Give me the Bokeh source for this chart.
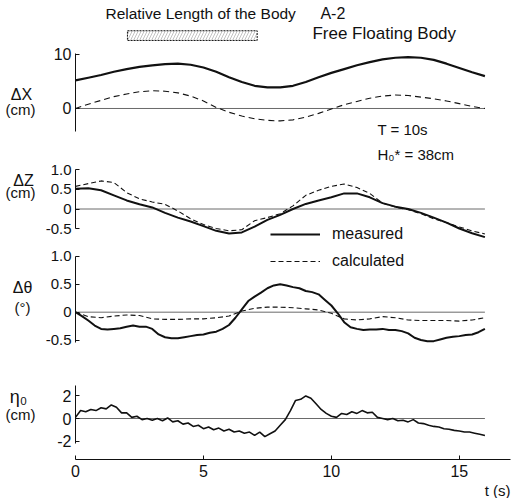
from bokeh.plotting import figure
from bokeh.layouts import column, row
from bokeh.models import Range1d, FixedTicker, Label, Legend, LegendItem, Title
from bokeh.embed import file_html
from bokeh.resources import INLINE

FONT = "Liberation Sans"
INK = "#111111"

# ---------------- data ----------------
t_half = [i * 0.5 for i in range(33)]          # 0 .. 16 s
t_quarter = [i * 0.25 for i in range(65)]      # 0 .. 16 s
t_fifth = [i * 0.2 for i in range(81)]         # 0 .. 16 s

dx_measured = [5.2, 5.7, 6.2, 6.8, 7.3, 7.7, 8.0, 8.2, 8.3, 8.1, 7.6, 6.8, 5.8, 4.9, 4.2, 3.9, 3.9,
               4.2, 4.9, 5.8, 6.6, 7.3, 8.0, 8.6, 9.1, 9.4, 9.5, 9.4, 9.0, 8.3, 7.5, 6.7, 6.0]
dx_calculated = [0.0, 0.8, 1.5, 2.2, 2.7, 3.1, 3.3, 3.2, 2.9, 2.3, 1.4, 0.2, -0.7, -1.4, -1.9, -2.2, -2.3,
                 -2.1, -1.6, -0.9, -0.1, 0.7, 1.3, 1.9, 2.3, 2.5, 2.4, 2.1, 1.8, 1.4, 0.9, 0.4, 0.0]

dz_measured = [0.52, 0.53, 0.48, 0.35, 0.22, 0.12, 0.04, -0.10, -0.22, -0.32, -0.44, -0.56, -0.63, -0.60,
               -0.45, -0.28, -0.15, 0.00, 0.13, 0.22, 0.30, 0.40, 0.40, 0.30, 0.15, 0.06, 0.00, -0.10,
               -0.22, -0.35, -0.50, -0.62, -0.72]
dz_calculated = [0.58, 0.65, 0.72, 0.68, 0.42, 0.26, 0.18, 0.12, -0.05, -0.25, -0.40, -0.50, -0.56, -0.53,
                 -0.30, -0.22, -0.12, 0.08, 0.35, 0.48, 0.58, 0.64, 0.55, 0.40, 0.15, 0.05, -0.02, -0.12,
                 -0.25, -0.35, -0.46, -0.56, -0.64]

dth_measured = [0.00, -0.07, -0.15, -0.24, -0.30, -0.31, -0.30, -0.29, -0.26, -0.24, -0.26, -0.26, -0.30,
                -0.40, -0.45, -0.47, -0.47, -0.45, -0.43, -0.41, -0.40, -0.37, -0.35, -0.30, -0.23, -0.10,
                0.05, 0.20, 0.28, 0.35, 0.43, 0.48, 0.50, 0.48, 0.45, 0.43, 0.38, 0.36, 0.32, 0.22, 0.12,
                -0.02, -0.18, -0.27, -0.30, -0.32, -0.31, -0.31, -0.30, -0.32, -0.32, -0.34, -0.38, -0.46,
                -0.50, -0.52, -0.52, -0.49, -0.46, -0.44, -0.43, -0.41, -0.40, -0.36, -0.30]
dth_calculated = [0.00, -0.08, -0.10, -0.07, -0.05, -0.06, -0.12, -0.13, -0.13, -0.12, -0.12, -0.10, -0.07,
                  0.02, 0.07, 0.09, 0.09, 0.08, 0.06, 0.04, -0.02, -0.12, -0.14, -0.12, -0.08, -0.10,
                  -0.14, -0.15, -0.15, -0.15, -0.16, -0.14, -0.10]

eta0_measured = [0.1, 0.7, 0.6, 0.8, 0.7, 0.95, 0.85, 1.2, 1.0, 0.5, 0.5, 0.1, 0.2, -0.1, 0.0, -0.15, 0.0,
                 -0.2, 0.05, -0.3, -0.2, -0.5, -0.4, -0.7, -0.6, -0.9, -0.75, -1.0, -0.85, -1.1, -0.95,
                 -1.2, -1.1, -1.3, -1.2, -1.5, -1.2, -1.6, -1.35, -1.1, -0.6, -0.1, 0.7, 1.6, 1.7, 2.0,
                 1.8, 1.3, 0.8, 0.45, 0.2, 0.1, 0.45, 0.35, 0.6, 0.45, 0.7, 0.5, 0.55, 0.1, 0.0, -0.1,
                 0.0, -0.2, -0.15, -0.3, -0.1, -0.4, -0.45, -0.6, -0.7, -0.75, -0.9, -0.95, -1.05, -1.1,
                 -1.2, -1.2, -1.3, -1.4, -1.5]

x_ticks = [0, 5, 10, 15]
dx_ticks, dx_tick_labels = [0, 10], ["0", "10"]
dz_ticks, dz_tick_labels = [-0.5, 0, 0.5, 1.0], ["-0.5", "0", "0.5", "1.0"]
dth_ticks, dth_tick_labels = [-0.5, 0, 0.5, 1.0], ["-0.5", "0", "0.5", "1.0"]
eta_ticks, eta_tick_labels = [-2, 0, 2], ["-2", "0", "2"]


# ---------------- helpers ----------------
def base(fig):
    fig.outline_line_color = None
    fig.grid.visible = False
    fig.background_fill_color = "white"
    fig.border_fill_color = "white"
    fig.min_border_top = 0
    return fig


def panel(fh, yr, ticks, labels, bounds, font_size, bottom=False):
    p = figure(frame_width=435, frame_height=fh, x_range=Range1d(0, 17), y_range=Range1d(*yr),
               output_backend="svg", toolbar_location=None,
               x_axis_location="below" if bottom else None,
               min_border_left=35, min_border_right=4, min_border_top=0, min_border_bottom=0)
    base(p)
    ax = p.yaxis[0]
    ax.ticker = FixedTicker(ticks=ticks)
    ax.major_label_overrides = {k: v for k, v in zip(ticks, labels)}
    ax.bounds = bounds
    ax.axis_line_color = INK
    ax.axis_line_width = 1
    ax.major_tick_in = 4
    ax.major_tick_out = 0
    ax.major_tick_line_color = INK
    ax.minor_tick_line_color = None
    ax.major_label_standoff = 4
    ax.major_label_text_font = FONT
    ax.major_label_text_font_size = font_size
    ax.major_label_text_color = INK
    if bottom:
        xa = p.xaxis[0]
        xa.ticker = FixedTicker(ticks=x_ticks)
        xa.axis_line_color = INK
        xa.major_tick_in = 4
        xa.major_tick_out = 0
        xa.major_tick_line_color = INK
        xa.minor_tick_line_color = None
        xa.major_label_standoff = 5
        xa.major_label_text_font = FONT
        xa.major_label_text_font_size = "16px"
        xa.major_label_text_color = INK
    return p


def side(p, fh):
    s = figure(frame_width=40, frame_height=fh, x_range=Range1d(0, 40), y_range=p.y_range,
               output_backend="svg", toolbar_location=None,
               x_axis_location=None, y_axis_location=None,
               min_border_left=0, min_border_right=0, min_border_top=0, min_border_bottom=0)
    base(s)
    return s


def lab(p, x, y, text, size="15px", align="left"):
    p.add_layout(Label(x=x, y=y, text=text, text_font=FONT, text_font_size=size,
                       text_align=align, text_baseline="middle", text_color=INK))


def zero_line(p, t):
    p.line([t[0], t[-1]], [0, 0], line_color="#444444", line_width=0.8)


def legend(p, renderer, text, loc):
    p.add_layout(Legend(items=[LegendItem(label=text, renderers=[renderer])], location=loc,
                        glyph_width=50, glyph_height=20, label_standoff=12, padding=0, margin=0,
                        border_line_color=None, background_fill_alpha=0,
                        label_text_font=FONT, label_text_font_size="16px", label_text_color=INK))


# ---------------- panel 1: ΔX ----------------
p1 = panel(140, (-5.926, 20.0), dx_ticks, dx_tick_labels, (-4.3, 10.2), "16px")
zero_line(p1, t_half)
p1.line(t_half, dx_measured, line_color=INK, line_width=2.2)
p1.line(t_half, dx_calculated, line_color=INK, line_width=1.1, line_dash="6 4")
p1.quad(left=2.03, right=7.1, top=14.4, bottom=12.6, fill_color=None,
        hatch_pattern="/", hatch_color="#999999", hatch_scale=6, hatch_weight=0.6,
        line_color=INK, line_width=1, line_dash="2 1")
lab(p1, 1.17, 17.6, "Relative Length of the Body", "15.5px")
lab(p1, 9.57, 17.6, "A-2", "16px")
lab(p1, 9.26, 13.9, "Free Floating Body", "17px")
lab(p1, 11.8, -3.9, "T = 10s", "15px")
s1 = side(p1, 140)
lab(s1, 21, 2.6, "ΔX", "16px", "center")
lab(s1, 20, -0.2, "(cm)", "15px", "center")

# ---------------- panel 2: ΔZ ----------------
p2 = panel(104, (-0.910, 1.756), dz_ticks, dz_tick_labels, (-0.5, 1.0), "15px")
zero_line(p2, t_half)
r_meas = p2.line(t_half, dz_measured, line_color=INK, line_width=2)
p2.line(t_half, dz_calculated, line_color=INK, line_width=1.1, line_dash="5 3")
lab(p2, 11.8, 1.40, "H₀* = 38cm", "15px")
legend(p2, r_meas, "measured", (195, 0))
s2 = side(p2, 104)
lab(s2, 23, 0.73, "ΔZ", "16px", "center")
lab(s2, 20, 0.42, "(cm)", "15px", "center")

# ---------------- panel 3: Δθ ----------------
p3 = panel(128, (-1.083, 1.215), dth_ticks, dth_tick_labels, (-0.55, 1.0), "15px")
zero_line(p3, t_half)
p3.line(t_quarter, dth_measured, line_color=INK, line_width=2)
r_calc = p3.line(t_half, dth_calculated, line_color=INK, line_width=1.1, line_dash="5 3")
legend(p3, r_calc, "calculated", (195, 101))
s3 = side(p3, 128)
lab(s3, 22, 0.44, "Δθ", "16px", "center")
lab(s3, 22, 0.08, "(°)", "15px", "center")

# ---------------- panel 4: η0 ----------------
p4 = panel(87, (-3.628, 4.071), eta_ticks, eta_tick_labels, (-2.2, 2.9), "16px", bottom=True)
zero_line(p4, t_fifth)
p4.line(t_fifth, eta0_measured, line_color=INK, line_width=1.6)
p4.add_layout(Title(text="t (s)", align="right", standoff=0, text_font=FONT,
                    text_font_size="15px", text_font_style="normal", text_color=INK), "below")
s4 = side(p4, 87)
lab(s4, 18, 1.86, "η₀", "18px", "center")
lab(s4, 20, 0.35, "(cm)", "15px", "center")

layout = column(row(s1, p1), row(s2, p2), row(s3, p3), row(s4, p4))
open("out.html", "w").write(file_html(layout, INLINE))
